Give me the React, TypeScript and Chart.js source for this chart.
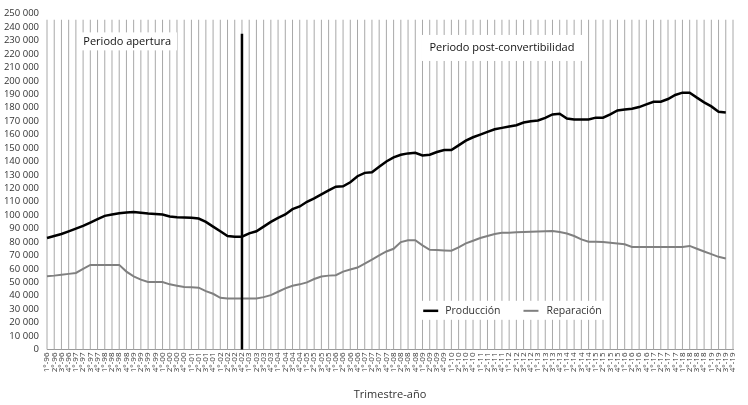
import React, { useEffect, useRef } from "react";
import { Chart, registerables } from "chart.js";

Chart.register(...registerables);

// ---- DATA ----
const years = ["96","97","98","99","00","01","02","03","04","05","06","07","08","09","10","11","12","13","14","15","16","17","18","19"];
const quarters = ["1°","2°","3°","4°"];
const categories: string[] = [];
years.forEach((yy) => quarters.forEach((q) => categories.push(q + "-" + yy)));

const produccion: (number | null)[] = [
  83000, 84500, 86000, 88000, 90000, 92000, 94500, 97000, 99500, 100500,
  101500, 102000, 102300, 101800, 101200, 100800, 100500, 99000, 98500, 98300,
  98000, 97500, 95000, 91500, 88000, 84500, 84000, 84000, 86500, 88000,
  91500, 95000, 98000, 100500, 104500, 106500, 110000, 112500, 115500, 118500,
  121200, 121500, 124500, 129000, 131500, 132000, 136000, 140000, 143000, 145000,
  146000, 146500, 144500, 145000, 147000, 148500, 148500, 152000, 155500, 158000,
  160000, 162000, 164000, 165000, 166000, 167000, 169000, 170000, 170500, 172500,
  175000, 175500, 172000, 171200, 171200, 171200, 172600, 172600, 175000, 178000,
  178700, 179300, 180500, 182500, 184400, 184500, 186500, 189500, 191200, 191200,
  187500, 184000, 181000, 177000, 176500, null,
];

const reparacion: (number | null)[] = [
  54500, 55000, 55700, 56300, 57000, 60000, 63000, 63000, 63000, 63000,
  63000, 58000, 54500, 52000, 50300, 50200, 50200, 48500, 47500, 46500,
  46300, 46000, 43500, 41500, 38500, 38000, 38000, 38000, 38000, 38000,
  39000, 40500, 43000, 45500, 47500, 48500, 50000, 52500, 54300, 55000,
  55300, 58000, 59500, 61000, 64000, 67000, 70000, 73000, 75000, 80000,
  81300, 81300, 77500, 74200, 74000, 73700, 73500, 76000, 79000, 81000,
  83000, 84500, 86000, 86900, 87000, 87200, 87400, 87600, 87800, 88000,
  88200, 87500, 86300, 84500, 82000, 80300, 80200, 80000, 79400, 78900,
  78400, 76400, 76400, 76400, 76400, 76400, 76400, 76400, 76400, 77100,
  75000, 73000, 71000, 69000, 67800, null,
];

const seriesNames = ["Producción", "Reparación"];
const periodLabels = ["Periodo apertura", "Periodo post-convertibilidad"];
const breakIndex = 27; // quarter where the period changes
const axisTitle = "Trimestre-año";

// ---- STYLE ----
const FONT = "'Open Sans', 'DejaVu Sans', sans-serif";
const TEXT = "#333333";
const GRID = "#a8a8a8";

const fmt = (v: number) => String(v).replace(/\B(?=(\d{3})+(?!\d))/g, " ");

const decor = {
  id: "decor",
  beforeDatasetsDraw(chart: any) {
    const { ctx, scales } = chart;
    const x = scales.x, y = scales.y;
    const bottom = y.getPixelForValue(0);
    const top = y.getPixelForValue(245500);
    ctx.save();
    ctx.strokeStyle = GRID;
    ctx.lineWidth = 1;
    for (let i = 0; i < categories.length; i++) {
      const px = x.getPixelForValue(i);
      ctx.beginPath();
      ctx.moveTo(px, top);
      ctx.lineTo(px, bottom);
      ctx.stroke();
    }
    const drawBox = (x0: number, x1: number, y0: number, y1: number) => {
      ctx.fillStyle = "#ffffff";
      ctx.fillRect(x0, y0, x1 - x0, y1 - y0);
    };
    ctx.font = `11px ${FONT}`;
    ctx.textBaseline = "middle";
    ctx.textAlign = "center";
    {
      const cx = x.getPixelForValue(11.1);
      const cy = y.getPixelForValue(229400);
      const w = ctx.measureText(periodLabels[0]).width;
      drawBox(cx - w / 2 - 6, cx + w / 2 + 6, cy - 9, cy + 9);
      ctx.fillStyle = "#111";
      ctx.fillText(periodLabels[0], cx, cy);
    }
    {
      const cx = x.getPixelForValue(63);
      const cy = y.getPixelForValue(224500);
      const w = ctx.measureText(periodLabels[1]).width;
      drawBox(cx - w / 2 - 8, cx + w / 2 + 8, cy - 13, cy + 13);
      ctx.fillStyle = "#111";
      ctx.fillText(periodLabels[1], cx, cy);
    }
    {
      const lx = x.getPixelForValue(52.1);
      const ly = y.getPixelForValue(28800);
      ctx.font = `10.5px ${FONT}`;
      ctx.textAlign = "left";
      const w0 = ctx.measureText(seriesNames[0]).width;
      const w1 = ctx.measureText(seriesNames[1]).width;
      const total = 15 + 7 + w0 + 23 + 15 + 8 + w1;
      drawBox(lx - 5, lx + total + 6, ly - 10, ly + 9);
      ctx.lineWidth = 2.5;
      ctx.strokeStyle = "#000";
      ctx.beginPath();
      ctx.moveTo(lx, ly);
      ctx.lineTo(lx + 15, ly);
      ctx.stroke();
      ctx.fillStyle = TEXT;
      ctx.fillText(seriesNames[0], lx + 22, ly);
      const lx2 = lx + 22 + w0 + 23;
      ctx.lineWidth = 2;
      ctx.strokeStyle = "#808080";
      ctx.beginPath();
      ctx.moveTo(lx2, ly);
      ctx.lineTo(lx2 + 15, ly);
      ctx.stroke();
      ctx.fillStyle = TEXT;
      ctx.fillText(seriesNames[1], lx2 + 23, ly);
    }
    ctx.restore();
  },
  afterDatasetsDraw(chart: any) {
    const { ctx, scales } = chart;
    const x = scales.x, y = scales.y;
    const px = x.getPixelForValue(breakIndex);
    ctx.save();
    ctx.strokeStyle = "#000";
    ctx.lineWidth = 2.5;
    ctx.beginPath();
    ctx.moveTo(px, y.getPixelForValue(235000));
    ctx.lineTo(px, y.getPixelForValue(0));
    ctx.stroke();
    ctx.restore();
  },
};

export default function App() {
  const ref = useRef<HTMLCanvasElement | null>(null);
  useEffect(() => {
    if (!ref.current) return;
    const chart = new Chart(ref.current, {
      type: "line",
      data: {
        labels: categories,
        datasets: [
          {
            label: seriesNames[0],
            data: produccion,
            borderColor: "#000000",
            borderWidth: 2.5,
            pointRadius: 0,
            tension: 0,
            fill: false,
          },
          {
            label: seriesNames[1],
            data: reparacion,
            borderColor: "#808080",
            borderWidth: 2,
            pointRadius: 0,
            tension: 0,
            fill: false,
          },
        ],
      },
      options: {
        animation: false,
        responsive: false,
        maintainAspectRatio: false,
        layout: { padding: { left: 0, right: 15, top: 6.7, bottom: 0 } },
        plugins: { legend: { display: false }, tooltip: { enabled: false } },
        scales: {
          x: {
            type: "category",
            offset: false,
            grid: { display: false, drawTicks: false },
            border: { display: true, color: "#9a9a9a", width: 1 },
            ticks: {
              autoSkip: false,
              minRotation: 90,
              maxRotation: 90,
              padding: 3,
              color: TEXT,
              font: { family: FONT, size: 8 },
            },
            title: {
              display: true,
              text: axisTitle,
              color: TEXT,
              font: { family: FONT, size: 11 },
              padding: { top: 0, bottom: 3.5 },
            },
            afterFit: (s: any) => { s.height = 55.5; },
          },
          y: {
            min: 0,
            max: 250000,
            grid: { display: false, drawTicks: false },
            border: { display: false },
            ticks: {
              autoSkip: false,
              stepSize: 10000,
              padding: 8,
              color: TEXT,
              font: { family: FONT, size: 9.5 },
              callback: (v: any) => fmt(Number(v)),
            },
            afterFit: (s: any) => { s.width = 47; },
          },
        },
      },
      plugins: [decor],
    });
    return () => chart.destroy();
  }, []);
  return (
    <div style={{ position: "absolute", left: 0, top: 0, width: 748, height: 405, background: "#fff" }}>
      <canvas ref={ref} width={748} height={405} />
    </div>
  );
}
